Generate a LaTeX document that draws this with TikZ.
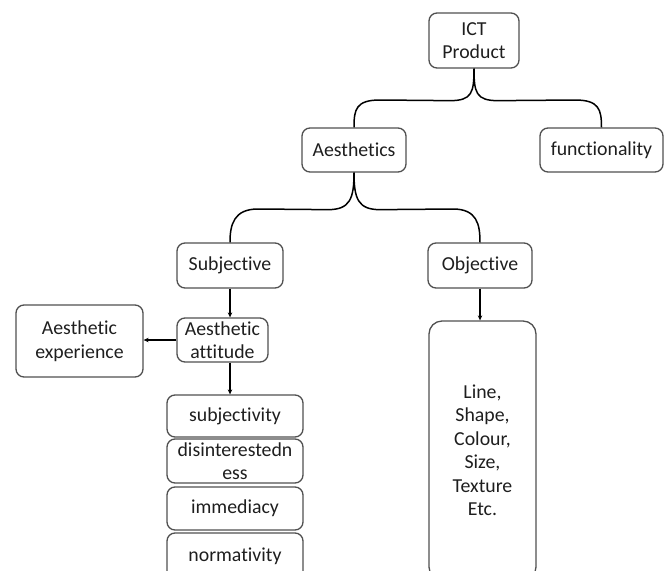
\documentclass[tikz,border=0pt]{standalone}
\usepackage{fontspec}
\setmainfont[Ligatures={NoCommon,NoRequired,NoContextual}]{Carlito}
\usetikzlibrary{arrows.meta}
\definecolor{boxline}{HTML}{505050}
\definecolor{txt}{HTML}{1E1E1E}
\begin{document}
\begin{tikzpicture}[x=1pt,y=-1pt,
  box/.style={draw=boxline,line width=1.3pt,rounded corners=8pt,align=center,
    text=txt,font=\fontsize{19.8}{23.5}\selectfont,inner sep=2pt},
  brace/.style={draw=black,line width=1.5pt},
  arr/.style={draw=black,line width=1.3pt,-{Stealth[length=5pt,width=4.5pt]}}]
\useasboundingbox (0,0) rectangle (665,571);
\clip (0,0) rectangle (665,571);
\node[box,minimum width=90pt,minimum height=55pt] (ict) at (474,40.5) {ICT\\Product};
\node[box,minimum width=104pt,minimum height=44pt] (aes) at (354,150) {Aesthetics};
\node[box,minimum width=123pt,minimum height=44pt] (fun) at (601.5,150) {functionality};
\node[box,minimum width=106pt,minimum height=45pt] (subj) at (230,265.5) {Subjective};
\node[box,minimum width=104pt,minimum height=45pt] (obj) at (480,265.5) {Objective};
\node[box,minimum width=91pt,minimum height=44pt] (att) at (222.5,340) {Aesthetic\\attitude};
\node[box,minimum width=127pt,minimum height=72pt] (exp) at (79.5,341) {Aesthetic\\experience};
\node[box,minimum width=136pt,minimum height=42pt] (s1) at (235,416) {subjectivity};
\node[box,minimum width=136pt,minimum height=44pt] (s2) at (235,461) {disinterestedn\\ess};
\node[box,minimum width=136pt,minimum height=43pt] (s3) at (235,508.5) {immediacy};
\node[box,minimum width=136pt,minimum height=46pt] (s4) at (235,556) {normativity};
\node[box,rounded corners=13pt,minimum width=107pt,minimum height=259pt] (big) at (482.5,450.5) {Line,\\Shape,\\Colour,\\Size,\\Texture\\Etc.};
% braces
\draw[brace] (ict.south) .. controls +(0,24) and +(22,0) .. ++(-24,32) -- (380,100)
  .. controls +(-24,0) and +(0,-18) .. (aes.north);
\draw[brace] (ict.south) .. controls +(0,24) and +(-22,0) .. ++(24,32) -- (575,100)
  .. controls +(24,0) and +(0,-18) .. (fun.north);
\draw[brace] (aes.south) .. controls +(0,26) and +(22,0) .. ++(-26,37) -- (258,209)
  .. controls +(-24,0) and +(0,-18) .. (subj.north);
\draw[brace] (aes.south) .. controls +(0,26) and +(-22,0) .. ++(26,37) -- (453,209)
  .. controls +(24,0) and +(0,-18) .. (obj.north);
% arrows
\draw[arr] (subj.south) -- (subj.south |- att.north);
\draw[arr] (subj.south |- att.south) -- (subj.south |- s1.north);
\draw[arr] (att.west) -- (exp.east |- att.west);
\draw[arr] (obj.south) -- (obj.south |- big.north);
\end{tikzpicture}
\end{document}
